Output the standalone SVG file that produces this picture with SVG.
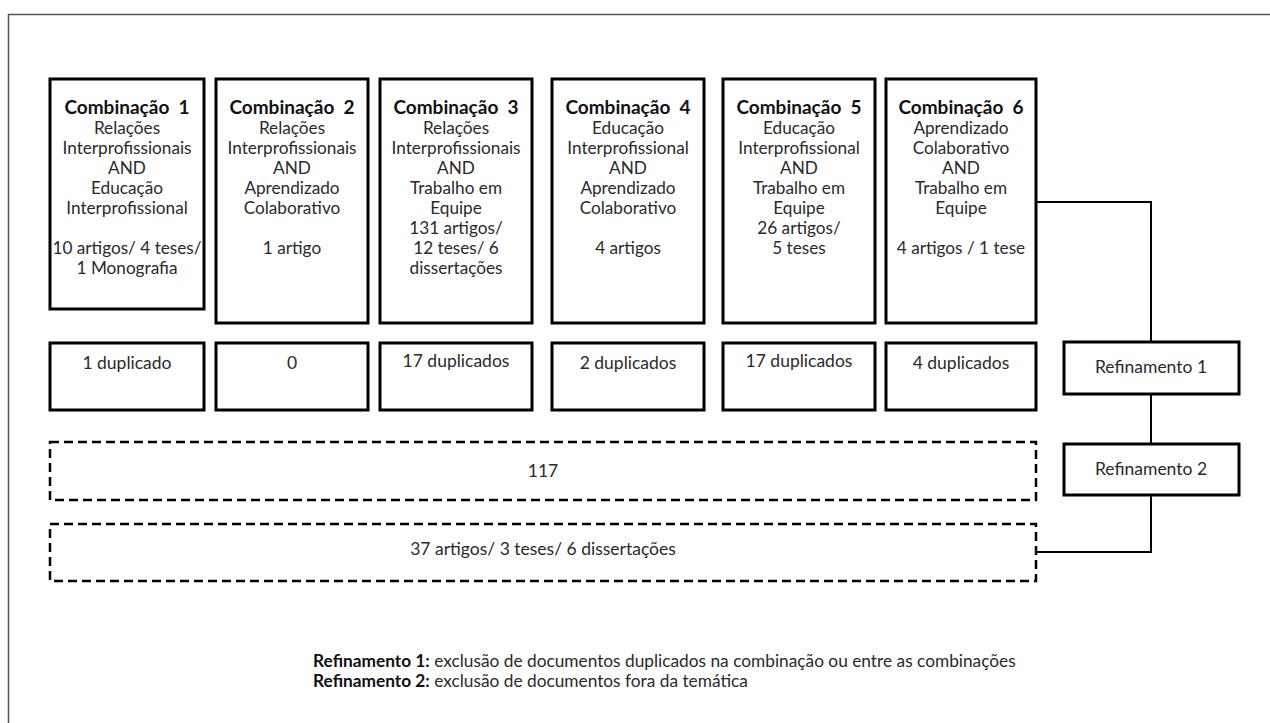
<svg xmlns="http://www.w3.org/2000/svg" width="1270" height="723" viewBox="0 0 1270 723">
<style>
.box{fill:#fff;stroke:#000;stroke-width:3}
.dash{fill:#fff;stroke:#000;stroke-width:2.5;stroke-dasharray:9,5}
.ln{fill:none;stroke:#000;stroke-width:2}
text{font-family:Lato,"Liberation Sans",sans-serif;fill:#2a2a2a;text-anchor:middle;font-size:17.5px}
.t{font-size:17.2px}
.b{font-weight:bold;fill:#111;font-size:19px}
.foot{text-anchor:start;font-size:17.3px}
.foot .b{font-size:17.3px}
</style>
<rect x="-1" y="0" width="1272" height="724" fill="#fff"/>
<path d="M8.5,724 V14.5 H1271" fill="none" stroke="#555" stroke-width="1.5"/>
<g id="connectors">
<path class="ln" d="M1036,202 H1151 V342"/>
<path class="ln" d="M1151,394 V444"/>
<path class="ln" d="M1151,496 V552 H1036"/>
</g>
<g id="comb1"><rect class="box" x="50" y="79" width="154" height="230"/>
<text class="t" x="127" y="114"><tspan class="b">Combinação&#160; 1</tspan><tspan x="127" dy="20">Relações</tspan><tspan x="127" dy="20">Interprofissionais</tspan><tspan x="127" dy="20">AND</tspan><tspan x="127" dy="20">Educação</tspan><tspan x="127" dy="20">Interprofissional</tspan><tspan x="127" dy="40">10 artigos/ 4 teses/</tspan><tspan x="127" dy="20">1 Monografia</tspan></text></g>
<g id="comb2"><rect class="box" x="216" y="79" width="152" height="244"/>
<text class="t" x="292" y="114"><tspan class="b">Combinação&#160; 2</tspan><tspan x="292" dy="20">Relações</tspan><tspan x="292" dy="20">Interprofissionais</tspan><tspan x="292" dy="20">AND</tspan><tspan x="292" dy="20">Aprendizado</tspan><tspan x="292" dy="20">Colaborativo</tspan><tspan x="292" dy="40">1 artigo</tspan></text></g>
<g id="comb3"><rect class="box" x="380" y="79" width="152" height="244"/>
<text class="t" x="456" y="114"><tspan class="b">Combinação&#160; 3</tspan><tspan x="456" dy="20">Relações</tspan><tspan x="456" dy="20">Interprofissionais</tspan><tspan x="456" dy="20">AND</tspan><tspan x="456" dy="20">Trabalho em</tspan><tspan x="456" dy="20">Equipe</tspan><tspan x="456" dy="20">131 artigos/</tspan><tspan x="456" dy="20">12 teses/ 6</tspan><tspan x="456" dy="20">dissertações</tspan></text></g>
<g id="comb4"><rect class="box" x="552" y="79" width="152" height="244"/>
<text class="t" x="628" y="114"><tspan class="b">Combinação&#160; 4</tspan><tspan x="628" dy="20">Educação</tspan><tspan x="628" dy="20">Interprofissional</tspan><tspan x="628" dy="20">AND</tspan><tspan x="628" dy="20">Aprendizado</tspan><tspan x="628" dy="20">Colaborativo</tspan><tspan x="628" dy="40">4 artigos</tspan></text></g>
<g id="comb5"><rect class="box" x="723" y="79" width="152" height="244"/>
<text class="t" x="799" y="114"><tspan class="b">Combinação&#160; 5</tspan><tspan x="799" dy="20">Educação</tspan><tspan x="799" dy="20">Interprofissional</tspan><tspan x="799" dy="20">AND</tspan><tspan x="799" dy="20">Trabalho em</tspan><tspan x="799" dy="20">Equipe</tspan><tspan x="799" dy="20">26 artigos/</tspan><tspan x="799" dy="20">5 teses</tspan></text></g>
<g id="comb6"><rect class="box" x="886" y="79" width="150" height="244"/>
<text class="t" x="961" y="114"><tspan class="b">Combinação&#160; 6</tspan><tspan x="961" dy="20">Aprendizado</tspan><tspan x="961" dy="20">Colaborativo</tspan><tspan x="961" dy="20">AND</tspan><tspan x="961" dy="20">Trabalho em</tspan><tspan x="961" dy="20">Equipe</tspan><tspan x="961" dy="40">4 artigos / 1 tese</tspan></text></g>
<g id="dup1"><rect class="box" x="50" y="343" width="154" height="67"/><text x="127" y="369">1 duplicado</text></g>
<g id="dup2"><rect class="box" x="216" y="343" width="152" height="67"/><text x="292" y="369">0</text></g>
<g id="dup3"><rect class="box" x="380" y="343" width="152" height="67"/><text x="456" y="367">17 duplicados</text></g>
<g id="dup4"><rect class="box" x="552" y="343" width="152" height="67"/><text x="628" y="369">2 duplicados</text></g>
<g id="dup5"><rect class="box" x="723" y="343" width="152" height="67"/><text x="799" y="367">17 duplicados</text></g>
<g id="dup6"><rect class="box" x="886" y="343" width="150" height="67"/><text x="961" y="369">4 duplicados</text></g>
<g id="ref1"><rect class="box" x="1064" y="342" width="175" height="52"/><text x="1151" y="373">Refinamento 1</text></g>
<g id="ref2"><rect class="box" x="1064" y="444" width="175" height="51"/><text x="1151" y="475">Refinamento 2</text></g>
<g id="total"><rect class="dash" x="50" y="442" width="986" height="58"/><text x="543" y="477">117</text></g>
<g id="final"><rect class="dash" x="50" y="524" width="986" height="57"/><text x="543" y="555">37 artigos/ 3 teses/ 6 dissertações</text></g>
<g id="legend">
<text class="foot" x="313" y="667"><tspan class="b">Refinamento 1:</tspan> exclusão de documentos duplicados na combinação ou entre as combinações</text>
<text class="foot" x="313" y="687"><tspan class="b">Refinamento 2:</tspan> exclusão de documentos fora da temática</text>
</g>
</svg>
